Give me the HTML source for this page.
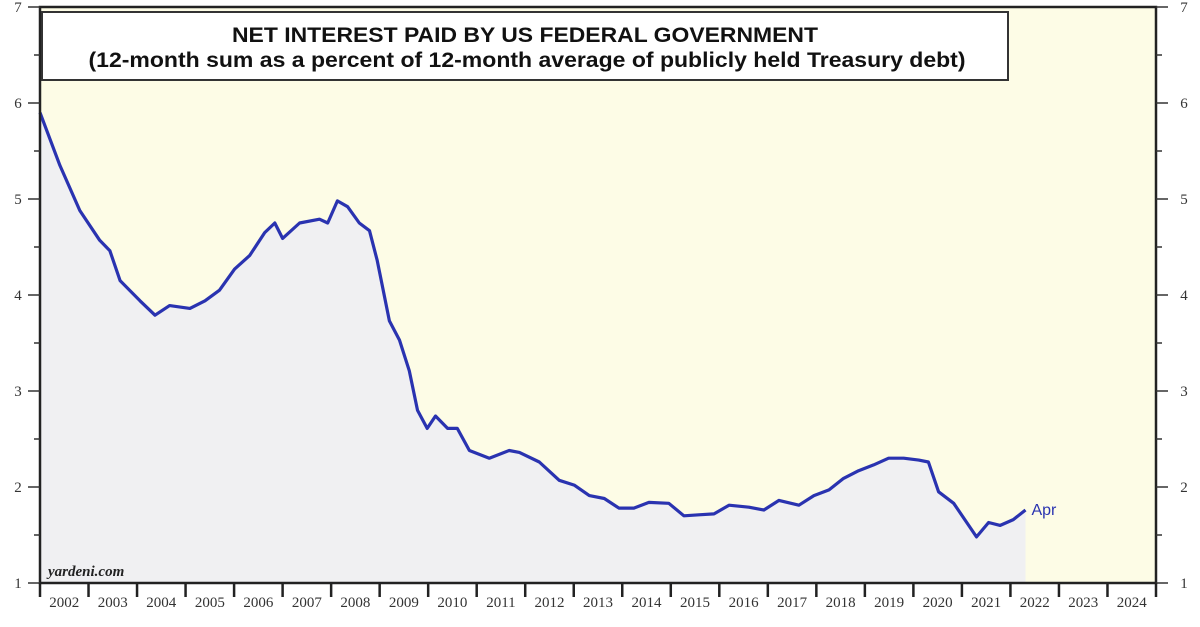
<!DOCTYPE html>
<html><head><meta charset="utf-8"><style>
body{margin:0;background:#fff;}
svg{display:block;font-family:"Liberation Sans",sans-serif;}
.tk{font-family:"Liberation Serif",serif;font-size:15px;fill:#333;}
</style></head><body>
<svg id="chart" width="1200" height="627" viewBox="0 0 1200 627">
<rect x="40" y="7" width="1116" height="576" fill="#fdfce6"/>
<g id="fillg"></g>
<path id="line" fill="none" stroke="#2a33b0" stroke-width="3.2" stroke-linejoin="round"/>
<text id="apr" font-size="16" fill="#2a33b0">Apr</text>
<rect x="40" y="7" width="1116" height="576" fill="none" stroke="#222" stroke-width="2.5"/>
<g>
<rect x="42" y="12" width="966" height="68" fill="#fff" stroke="#333" stroke-width="2"/>
<text x="525" y="42" text-anchor="middle" font-weight="bold" font-size="21" fill="#111" textLength="586" lengthAdjust="spacingAndGlyphs">NET INTEREST PAID BY US FEDERAL GOVERNMENT</text>
<text x="527" y="67" text-anchor="middle" font-weight="bold" font-size="21" fill="#111" textLength="877" lengthAdjust="spacingAndGlyphs">(12-month sum as a percent of 12-month average of publicly held Treasury debt)</text>
</g>
<text x="48" y="576" font-family="Liberation Serif,serif" font-style="italic" font-weight="bold" font-size="15" fill="#222">yardeni.com</text>
<g id="axes"></g>
</svg>
<script>
const years=[2002.0,2002.41,2002.82,2003.23,2003.44,2003.65,2004.06,2004.37,2004.67,2005.09,2005.40,2005.70,2006.01,2006.32,2006.63,2006.84,2007.0,2007.35,2007.76,2007.93,2008.13,2008.34,2008.58,2008.79,2008.95,2009.20,2009.41,2009.61,2009.78,2009.98,2010.15,2010.40,2010.60,2010.85,2011.26,2011.67,2011.88,2012.29,2012.70,2013.01,2013.32,2013.63,2013.93,2014.24,2014.55,2014.96,2015.27,2015.58,2015.89,2016.20,2016.61,2016.92,2017.23,2017.64,2017.95,2018.26,2018.56,2018.87,2019.18,2019.49,2019.80,2020.11,2020.31,2020.52,2020.83,2021.14,2021.30,2021.55,2021.79,2022.06,2022.31];
const values=[5.9,5.35,4.88,4.57,4.46,4.15,3.94,3.79,3.89,3.86,3.94,4.05,4.27,4.41,4.65,4.75,4.59,4.75,4.79,4.75,4.98,4.92,4.75,4.67,4.36,3.73,3.53,3.21,2.8,2.61,2.74,2.61,2.61,2.38,2.30,2.38,2.36,2.26,2.07,2.02,1.91,1.88,1.78,1.78,1.84,1.83,1.70,1.71,1.72,1.81,1.79,1.76,1.86,1.81,1.91,1.97,2.09,2.17,2.23,2.30,2.30,2.28,2.26,1.95,1.83,1.60,1.48,1.63,1.60,1.66,1.76];
const yTicks=[1,2,3,4,5,6,7];
const yearLabels=[2002,2003,2004,2005,2006,2007,2008,2009,2010,2011,2012,2013,2014,2015,2016,2017,2018,2019,2020,2021,2022,2023,2024];
const X0=40,X1=1156,Y0=583,Y1=7;
const xs=t=>X0+(t-2002)/23*(X1-X0);
const ys=v=>Y0-(v-1)/6*(Y0-Y1);
const NS='http://www.w3.org/2000/svg';
function mk(tag,attrs,parent){const e=document.createElementNS(NS,tag);for(const k in attrs)e.setAttribute(k,attrs[k]);parent.appendChild(e);return e;}
let d='';years.forEach((t,i)=>{d+=(i?'L':'M')+xs(t).toFixed(1)+','+ys(values[i]).toFixed(1);});
document.getElementById('line').setAttribute('d',d);
const last=years.length-1;
const f=mk('path',{d:d+'L'+xs(years[last]).toFixed(1)+','+Y0+'L'+X0+','+Y0+'Z',fill:'#f0f0f2'},document.getElementById('fillg'));


const apr=document.getElementById('apr');
apr.setAttribute('x',xs(years[last])+6);apr.setAttribute('y',ys(values[last])+5);
const ax=document.getElementById('axes');
yTicks.forEach(v=>{
 const y=ys(v);
 mk('line',{x1:X0-12,y1:y,x2:X0,y2:y,stroke:'#333','stroke-width':1.5},ax);
 mk('line',{x1:X1,y1:y,x2:X1+12,y2:y,stroke:'#333','stroke-width':1.5},ax);
 if(v<7){const h=ys(v+0.5);
 mk('line',{x1:X0-6,y1:h,x2:X0,y2:h,stroke:'#333','stroke-width':1.5},ax);
 mk('line',{x1:X1,y1:h,x2:X1+6,y2:h,stroke:'#333','stroke-width':1.5},ax);}
 const l=mk('text',{x:X0-22,y:y+5,'text-anchor':'middle',class:'tk'},ax);l.textContent=v;
 
 
 const r=mk('text',{x:X1+28,y:y+5,'text-anchor':'middle',class:'tk'},ax);r.textContent=v;
 
 
});
yearLabels.forEach(yr=>{
 const x=xs(yr);
 mk('line',{x1:x,y1:Y0,x2:x,y2:Y0+14,stroke:'#222','stroke-width':2.5},ax);
 const l=mk('text',{x:xs(yr+0.5),y:Y0+24,'text-anchor':'middle',class:'tk'},ax);l.textContent=yr;
 
 
});
mk('line',{x1:X1,y1:Y0,x2:X1,y2:Y0+14,stroke:'#222','stroke-width':2.5},ax);
</script>
</body></html>
